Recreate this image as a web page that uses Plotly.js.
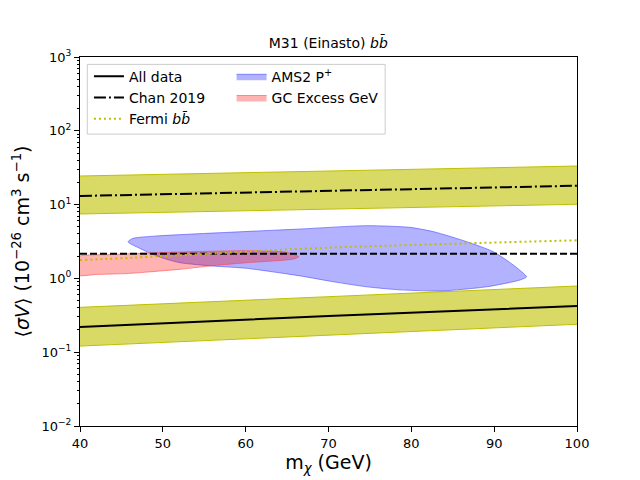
<!DOCTYPE html>
<html>
<head>
<meta charset="utf-8">
<script src="https://cdn.plot.ly/plotly-3.0.1.min.js"></script>
<style>
  html, body { margin: 0; padding: 0; background: #fff; }
  #chart { width: 640px; height: 480px; }
</style>
</head>
<body>
<div id="chart"></div>
<script>
// M31 (Einasto) b-bbar limits vs. dark matter mass
const FONT = "DejaVu Sans, sans-serif";
const BAND_FILL = "rgba(191,191,0,0.6)";
const BAND_EDGE = "#bfbf00";

// x grid for the straight limit lines
const massEnds = [40, 100];
const massLine = [40, 70, 100];

// "All data" limit and its band
const allData = [0.219, 0.31, 0.423];
const allDataLo = [0.121, 0.239];
const allDataHi = [0.405, 0.789];

// Chan 2019 limit and its band
const chan = [13.1, 18.0];
const chanLo = [7.46, 10.1];
const chanHi = [24.4, 33.3];

// unlabelled dashed reference level
const thermal = [2.15, 2.15];

// Fermi bb
const fermiMass = [40, 52, 66, 80, 100];
const fermi = [1.77, 2.05, 2.5, 2.84, 3.28];

// AMS2 P+ region (closed contour)
const amsMass = [45.8, 46.4, 49.3, 66.6, 74.6, 79.8, 82.7, 86.7, 89.9, 92.3, 93.9, 93.1,
  89.1, 83.5, 78.6, 74.6, 70.6, 66.6, 60.1, 56.1, 52.1, 50.1, 48.5, 46.0, 45.8];
const amsSv = [3.14, 3.49, 3.76, 4.67, 5.18, 4.92, 4.29, 3.14, 2.30, 1.52, 1.05, 0.95,
  0.77, 0.675, 0.70, 0.77, 0.90, 1.08, 1.37, 1.47, 1.63, 1.87, 2.19, 2.99, 3.14];

// GC excess region (closed contour)
const gcMass = [39.5, 44.0, 52.1, 60.1, 65.0, 66.4, 65.8, 60.1, 56.1, 52.1, 46.0, 42.0, 39.5, 39.5];
const gcSv = [1.93, 2.11, 2.28, 2.37, 2.26, 1.97, 1.83, 1.63, 1.49, 1.33, 1.17, 1.13, 1.11, 1.93];

const yTicks = [0.01, 0.1, 1, 10, 100, 1000];
const yTickText = ["10<sup>−2</sup>", "10<sup>−1</sup>", "10<sup>0</sup>", "10<sup>1</sup>", "10<sup>2</sup>", "10<sup>3</sup>"];
const xTicks = [40, 50, 60, 70, 80, 90, 100];

const minorY = [];
for (let e = -2; e < 3; e++) for (let k = 2; k < 10; k++) minorY.push(k * Math.pow(10, e));

function band(x, lo, hi) {
  return [
    { x, y: lo, type: "scatter", mode: "lines", line: { color: BAND_EDGE, width: 1 },
      showlegend: false, hoverinfo: "skip" },
    { x, y: hi, type: "scatter", mode: "lines", line: { color: BAND_EDGE, width: 1 },
      fill: "tonexty", fillcolor: BAND_FILL, showlegend: false, hoverinfo: "skip" },
  ];
}

const traces = [
  ...band(massEnds, allDataLo, allDataHi),
  ...band(massEnds, chanLo, chanHi),
  {
    x: amsMass, y: amsSv, type: "scatter", mode: "lines", fill: "toself",
    fillcolor: "rgba(0,0,255,0.3)", line: { color: "rgba(60,60,255,0.55)", width: 1, shape: "spline", smoothing: 0.6 },
    name: "AMS2 P<sup>+</sup>", legend: "legend2",
  },
  {
    x: gcMass, y: gcSv, type: "scatter", mode: "lines", fill: "toself",
    fillcolor: "rgba(255,0,0,0.3)", line: { color: "rgba(255,60,60,0.55)", width: 1, shape: "spline", smoothing: 0.6 },
    name: "GC Excess GeV", legend: "legend2",
  },
  {
    x: massEnds, y: thermal, type: "scatter", mode: "lines",
    line: { color: "#000", width: 2, dash: "7px,3px" }, showlegend: false,
  },
  {
    x: massLine, y: allData, type: "scatter", mode: "lines",
    line: { color: "#000", width: 2 }, name: "All data",
  },
  {
    x: massEnds, y: chan, type: "scatter", mode: "lines",
    line: { color: "#000", width: 2, dash: "12px,3px,2px,3px" }, name: "Chan 2019",
  },
  {
    x: fermiMass, y: fermi, type: "scatter", mode: "lines",
    line: { color: BAND_EDGE, width: 2, dash: "2px,3px", shape: "spline" }, name: "Fermi <i>bb̄</i>",
  },
];

const legendCommon = {
  bgcolor: "rgba(0,0,0,0)", borderwidth: 0, font: { family: FONT, size: 14, color: "#000" },
  yanchor: "top", xanchor: "left", y: 0.99, tracegroupgap: 0, traceorder: "normal",
};

const layout = {
  width: 640,
  height: 480,
  paper_bgcolor: "#fff",
  plot_bgcolor: "#fff",
  margin: { l: 80, r: 63, t: 57, b: 54 },
  font: { family: FONT, color: "#000" },
  title: {
    text: "M31 (Einasto) <i>bb̄</i>",
    font: { family: FONT, size: 14, color: "#000" },
    x: 0.513, xanchor: "center", y: 0.9, yanchor: "bottom",
  },
  xaxis: {
    range: [40, 100],
    tickvals: xTicks,
    ticks: "outside", ticklen: 5, tickcolor: "#000",
    showline: true, mirror: true, linecolor: "#000", linewidth: 1,
    showgrid: false, zeroline: false,
    tickfont: { family: FONT, size: 13, color: "#000" },
    title: { text: "m<sub><i>χ</i></sub> (GeV)", font: { family: FONT, size: 19, color: "#000" }, standoff: 6 },
  },
  yaxis: {
    type: "log",
    range: [-2, 3],
    tickmode: "array",
    tickvals: yTicks,
    ticktext: yTickText,
    ticks: "outside", ticklen: 5, tickcolor: "#000",
    minor: { tickmode: "array", tickvals: minorY, ticks: "outside", ticklen: 2.5, tickcolor: "#000", showgrid: false },
    showline: true, mirror: true, linecolor: "#000", linewidth: 1,
    showgrid: false, zeroline: false,
    tickfont: { family: FONT, size: 13, color: "#000" },
    title: {
      text: "⟨<i>σV</i>⟩ (10<sup>−26</sup> cm<sup>3</sup> s<sup>−1</sup>)",
      font: { family: FONT, size: 19, color: "#000" }, standoff: 6,
    },
  },
  legend: { ...legendCommon, x: 0.018 },
  legend2: { ...legendCommon, x: 0.305 },
  shapes: [
    {
      type: "rect", xref: "paper", yref: "paper", x0: 0.0147, x1: 0.614, y0: 0.791, y1: 0.98,
      line: { color: "#cccccc", width: 1 }, fillcolor: "rgba(255,255,255,0.8)", layer: "below",
    },
  ],
  showlegend: true,
};

Plotly.newPlot("chart", traces, layout, { displayModeBar: false, staticPlot: true });
</script>
</body>
</html>
